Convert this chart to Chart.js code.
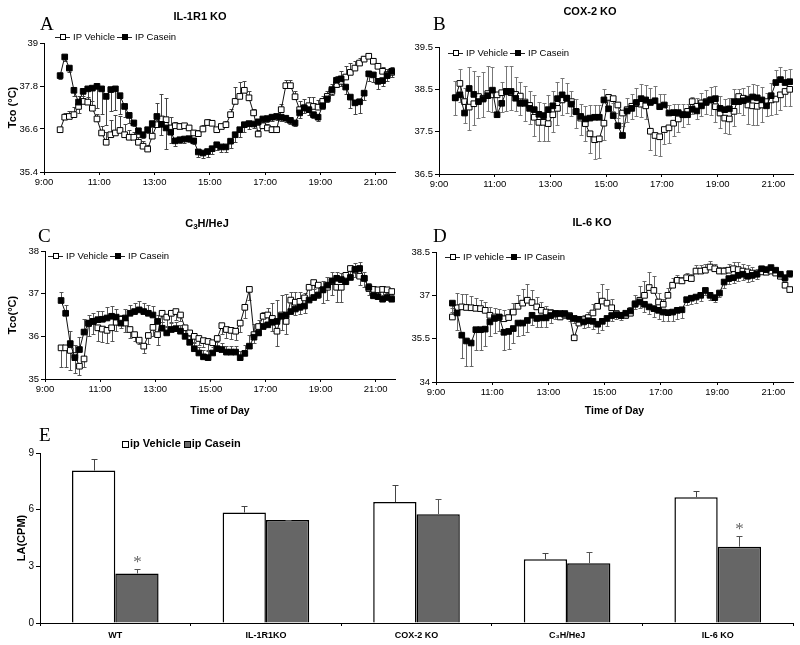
<!DOCTYPE html>
<html>
<head>
<meta charset="utf-8">
<script src="https://cdn.jsdelivr.net/npm/chart.js@4/dist/chart.umd.min.js"></script>
<style>
  body { margin: 0; background: #fff; }
  #fig { position: relative; width: 800px; height: 645px; overflow: hidden; font-family: "Liberation Sans", Arial, sans-serif; color: #000; }
  .pane { position: absolute; }
  .letter { position: absolute; font-family: "Liberation Serif", "Times New Roman", serif; font-size: 19px; line-height: 1; }
  .title { position: absolute; font-weight: bold; font-size: 11px; line-height: 1; white-space: nowrap; transform: translateX(-50%); }
  .title sub { font-size: 8px; vertical-align: -2px; }
  .leg { position: absolute; font-size: 9.5px; line-height: 10px; white-space: nowrap; }
  .key { display: inline-block; width: 15px; height: 1px; background: #222; position: relative; vertical-align: middle; margin: 0 3px 0 0; }
  .key.second { margin-left: 2px; }
  .key i { position: absolute; left: 5px; top: -3px; width: 6px; height: 6px; border: 1px solid #000; box-sizing: border-box; background: #fff; }
  .key i.fill { background: #000; }
  .legE { position: absolute; font-size: 11px; font-weight: bold; line-height: 12px; white-space: nowrap; }
  .sq { display: inline-block; width: 7px; height: 7px; border: 1px solid #000; box-sizing: border-box; vertical-align: -1px; margin-right: 1px; background: #fff; }
  .sq.dark { background: #666; }
</style>
</head>
<body>
<div id="fig">
  <div class="pane" style="left:0;top:0;width:400px;height:200px"><canvas id="chartA"></canvas></div>
  <div class="pane" style="left:400px;top:0;width:400px;height:200px"><canvas id="chartB"></canvas></div>
  <div class="pane" style="left:0;top:200px;width:400px;height:220px"><canvas id="chartC"></canvas></div>
  <div class="pane" style="left:400px;top:200px;width:400px;height:220px"><canvas id="chartD"></canvas></div>
  <div class="pane" style="left:0;top:420px;width:800px;height:225px"><canvas id="chartE"></canvas></div>

  <div class="letter" style="left:40px;top:14px">A</div>
  <div class="letter" style="left:433px;top:14px">B</div>
  <div class="letter" style="left:38px;top:226px">C</div>
  <div class="letter" style="left:433px;top:226px">D</div>
  <div class="letter" style="left:39px;top:425px">E</div>

  <div class="title" style="left:200px;top:11px">IL-1R1 KO</div>
  <div class="title" style="left:590px;top:6px">COX-2 KO</div>
  <div class="title" style="left:207px;top:218px">C<sub>3</sub>H/HeJ</div>
  <div class="title" style="left:592px;top:217px">IL-6 KO</div>

  <div class="leg" style="left:55px;top:32px"><span class="key"><i></i></span>IP Vehicle<span class="key second"><i class="fill"></i></span>IP Casein</div>
  <div class="leg" style="left:448px;top:48px"><span class="key"><i></i></span>IP Vehicle<span class="key second"><i class="fill"></i></span>IP Casein</div>
  <div class="leg" style="left:48px;top:251px"><span class="key"><i></i></span>IP Vehicle<span class="key second"><i class="fill"></i></span>IP Casein</div>
  <div class="leg" style="left:445px;top:252px"><span class="key"><i></i></span>IP vehicle<span class="key second"><i class="fill"></i></span>IP Casein</div>
  <div class="legE" style="left:122px;top:437px"><span class="sq"></span>ip Vehicle <span class="sq dark"></span>ip Casein</div>
</div>

<script>
// readings every 10 min, first one at 9:35
const firstReading = 9 + 35 / 60;
const binMinutes = 10;
const nBins = 73;
const times = Array.from({ length: nBins }, (_, i) => firstReading + i * binMinutes / 60);

const hourTicks = [9, 11, 13, 15, 17, 19, 21];
const hourLabels = ['9:00', '11:00', '13:00', '15:00', '17:00', '19:00', '21:00'];

// A: IL-1R1 KO
const aTicks = [35.4, 36.6, 37.8, 39];
const aVehicle = [36.58,36.93,36.95,37.0,37.23,37.37,37.35,37.18,36.88,36.49,
  36.23,36.44,36.49,36.56,36.44,36.37,36.37,36.23,36.12,36.04,
  36.40,36.72,36.88,36.86,36.63,36.69,36.67,36.69,36.63,36.49,
  36.47,36.60,36.78,36.76,36.58,36.67,36.72,37.0,37.37,37.51,
  37.68,37.47,37.05,36.46,36.69,36.63,36.58,36.58,37.14,37.81,
  37.81,37.50,37.14,37.19,37.25,37.23,37.21,37.37,37.51,37.65,
  37.84,37.93,38.05,38.18,38.30,38.44,38.55,38.63,38.49,38.35,
  38.21,38.12,38.18];
const aCasein = [38.09,38.61,38.30,37.68,37.35,37.65,37.72,37.74,37.79,37.72,
  37.51,37.70,37.72,37.53,37.23,36.98,36.77,36.55,36.44,36.58,
  36.75,36.95,36.73,36.63,36.51,36.27,36.30,36.32,36.33,36.27,
  35.96,35.93,35.97,36.05,36.16,36.10,36.10,36.26,36.44,36.58,
  36.72,36.75,36.74,36.80,36.88,36.89,36.93,36.95,36.93,36.90,
  36.84,36.77,37.05,37.19,37.14,37.00,36.93,37.25,37.44,37.70,
  37.96,38.00,37.77,37.49,37.33,37.36,37.60,38.14,38.11,37.93,
  37.95,38.09,38.21];
const aVehicleErr = [0.08,0.12,0.15,0.2,0.3,0.15,0.15,0.2,0.15,
  0.2,0.3,0.4,0.5,0.4,0.3,0.2,0.15,0.15,0.15,
  0.1,0.35,0.6,0.7,0.6,0.3,0.1,0.1,0.08,0.08,0.08,0.1,
  0.1,0.1,0.1,0.08,0.08,0.1,0.15,0.4,0.4,0.25,0.2,0.1,
  0.1,0.1,0.1,0.1,0.1,0.15,0.15,0.15,0.15,0.25,0.25,0.25,
  0.25,0.2,0.15,0.15,0.2,0.25,0.3,0.3,0.25,0.2,0.15,0.1,0.08,0.08,0.1,0.12,0.15,0.15];
const aCaseinErr = [0.1,0.1,0.1,0.15,0.3,0.3,0.4,0.6,0.6,
  0.7,0.8,0.6,0.6,0.5,0.3,0.2,0.1,0.1,0.1,
  0.1,0.1,0.1,0.3,0.6,0.3,0.15,0.1,0.1,0.1,0.1,0.15,
  0.15,0.15,0.15,0.15,0.15,0.15,0.2,0.2,0.2,0.2,0.15,0.1,
  0.1,0.1,0.1,0.1,0.1,0.1,0.1,0.1,0.1,0.15,0.15,0.15,
  0.1,0.1,0.1,0.1,0.15,0.2,0.2,0.2,0.3,0.3,0.3,0.2,0.2,0.2,0.2,0.15,0.15,0.15];

// B: COX-2 KO
const bTicks = [36.5, 37.5, 38.5, 39.5];
const bVehicle = [38.30,38.64,38.21,38.08,38.16,38.33,38.29,38.40,38.37,38.37,
  38.42,38.45,38.42,38.38,38.34,38.20,38.12,37.84,37.72,37.72,
  37.69,37.90,38.05,38.25,38.29,38.21,37.98,37.82,37.69,37.45,
  37.31,37.33,37.70,38.31,38.28,38.13,37.94,38.02,38.10,38.16,
  38.15,38.11,37.51,37.41,37.38,37.55,37.59,37.70,37.80,37.90,
  37.98,38.21,38.10,38.18,38.21,38.25,38.09,37.94,37.82,37.80,
  37.98,38.33,38.29,38.13,38.11,38.10,38.13,38.21,38.25,38.27,
  38.37,38.45,38.50];
const bCasein = [38.30,38.37,37.94,38.52,38.38,38.21,38.27,38.35,38.48,37.90,
  38.17,38.45,38.45,38.29,38.17,38.17,38.05,38.02,37.91,37.88,
  38.02,38.11,38.28,38.37,38.29,38.15,37.97,37.86,37.80,37.82,
  37.84,37.84,38.25,38.04,37.88,37.64,37.41,37.99,38.05,38.19,
  38.28,38.25,38.19,38.23,38.09,38.13,37.94,37.95,37.95,37.90,
  37.90,38.03,37.99,38.11,38.19,38.25,38.28,38.05,38.02,38.04,
  38.21,38.21,38.23,38.27,38.32,38.30,38.25,38.11,38.35,38.66,
  38.73,38.66,38.68];
const bVehicleErr = [0.4,0.45,0.5,0.55,0.5,0.5,0.45,0.4,0.4,0.45,0.45,0.45,0.4,
  0.4,0.45,0.45,0.45,0.45,0.45,0.45,0.4,0.4,0.4,0.35,0.35,
  0.35,0.4,0.4,0.4,0.45,0.45,0.45,0.4,0.3,0.3,0.3,0.3,
  0.3,0.3,0.3,0.3,0.3,0.45,0.45,0.45,0.35,0.35,0.3,0.3,
  0.3,0.3,0.3,0.3,0.3,0.3,0.35,0.35,0.35,0.35,0.35,0.35,
  0.4,0.4,0.45,0.45,0.45,0.4,0.35,0.35,0.35,0.35,0.35,0.4];
const bCaseinErr = [0.4,0.6,0.6,0.5,0.55,0.6,0.65,0.7,0.55,0.5,0.5,0.6,0.6,
  0.5,0.5,0.4,0.4,0.35,0.3,0.3,0.35,0.35,0.4,0.4,0.35,
  0.3,0.3,0.3,0.3,0.3,0.3,0.3,0.25,0.25,0.3,0.3,0.3,
  0.3,0.35,0.35,0.35,0.35,0.35,0.35,0.3,0.25,0.2,0.2,0.2,
  0.25,0.25,0.3,0.3,0.3,0.3,0.3,0.3,0.3,0.25,0.25,0.3,
  0.3,0.3,0.3,0.3,0.3,0.3,0.3,0.3,0.3,0.3,0.3,0.3];

// C: C3H/HeJ
const cTicks = [35, 36, 37, 38];
const cVehicle = [35.73,35.73,35.67,35.55,35.30,35.47,36.30,36.35,36.20,36.17,
  36.14,36.20,36.33,36.40,36.31,36.16,36.04,35.91,35.77,36.02,
  36.21,36.04,36.54,36.45,36.54,36.58,36.50,36.20,36.08,36.00,
  35.95,35.90,35.88,35.85,35.95,36.25,36.16,36.14,36.12,36.31,
  36.68,37.10,36.04,36.23,36.47,36.50,36.42,36.12,36.50,36.35,
  36.85,36.80,36.82,36.90,37.15,37.26,37.20,37.09,37.15,37.28,
  37.15,37.15,37.43,37.59,37.55,37.41,37.36,37.12,37.10,37.09,
  37.10,37.09,37.05];
const cCasein = [36.84,36.54,35.83,35.50,35.69,36.10,36.31,36.35,36.39,36.40,
  36.43,36.47,36.45,36.31,36.43,36.54,36.58,36.62,36.58,36.54,
  36.50,36.35,36.19,36.08,36.16,36.18,36.12,36.00,35.86,35.71,
  35.61,35.52,35.50,35.61,35.71,35.69,35.63,35.63,35.63,35.50,
  35.60,35.77,35.98,36.08,36.23,36.27,36.33,36.35,36.47,36.50,
  36.58,36.64,36.68,36.71,36.85,36.91,36.97,37.09,37.20,37.30,
  37.36,37.33,37.28,37.38,37.57,37.59,37.36,37.15,36.95,36.93,
  36.87,36.91,36.87];
const cVehicleErr = [0.45,0.45,0.45,0.4,0.2,0.2,0.3,0.3,0.3,0.3,0.3,0.3,0.2,
  0.2,0.2,0.2,0.15,0.1,0.15,0.2,0.2,0.25,0.2,0.2,0.2,
  0.2,0.15,0.15,0.15,0.15,0.15,0.15,0.2,0.2,0.2,0.2,0.2,
  0.2,0.2,0.2,0.25,0.25,0.2,0.2,0.2,0.2,0.3,0.35,0.35,
  0.3,0.3,0.3,0.3,0.35,0.3,0.3,0.3,0.3,0.3,0.3,0.35,
  0.35,0.2,0.15,0.15,0.2,0.2,0.15,0.15,0.15,0.15,0.15,0.15];
const cCaseinErr = [0.2,0.2,0.3,0.3,0.3,0.3,0.2,0.2,0.2,0.2,0.25,0.25,0.2,
  0.2,0.2,0.2,0.2,0.2,0.2,0.2,0.2,0.15,0.15,0.15,0.15,
  0.15,0.15,0.15,0.15,0.15,0.15,0.15,0.15,0.15,0.15,0.15,0.15,
  0.15,0.15,0.15,0.2,0.25,0.3,0.3,0.35,0.4,0.45,0.5,0.5,
  0.5,0.45,0.4,0.35,0.3,0.25,0.2,0.2,0.2,0.2,0.2,0.15,
  0.15,0.15,0.15,0.15,0.15,0.15,0.1,0.1,0.1,0.1,0.1,0.1];

// D: IL-6 KO
const dTicks = [34, 35.5, 37, 38.5];
const dVehicle = [36.25,36.57,36.60,36.58,36.57,36.55,36.54,36.48,36.31,36.25,
  36.23,36.19,36.23,36.42,36.62,36.73,36.83,36.75,36.60,36.48,
  36.42,36.39,36.35,36.25,36.32,36.30,35.53,36.04,36.16,36.23,
  36.39,36.62,36.80,36.73,36.57,36.37,36.31,36.31,36.38,36.71,
  36.83,37.00,37.27,37.17,36.77,36.69,37.00,37.35,37.52,37.50,
  37.61,37.58,37.84,37.84,37.87,37.98,37.92,37.84,37.84,37.87,
  37.92,37.89,37.84,37.81,37.77,37.75,37.81,37.80,37.84,37.77,
  37.66,37.35,37.20];
const dCasein = [36.73,36.39,35.62,35.42,35.35,35.81,35.81,35.83,36.08,36.20,
  36.25,35.72,35.75,35.85,36.04,36.04,36.13,36.31,36.20,36.22,
  36.22,36.30,36.37,36.37,36.37,36.27,36.20,36.17,36.08,36.12,
  36.10,36.00,36.10,36.20,36.30,36.33,36.30,36.38,36.46,36.69,
  36.77,36.69,36.60,36.54,36.48,36.42,36.40,36.42,36.48,36.50,
  36.85,36.90,36.94,37.00,37.17,37.00,36.92,37.08,37.46,37.58,
  37.61,37.69,37.73,37.66,37.69,37.73,37.92,37.89,37.96,37.87,
  37.73,37.61,37.75];
const dVehicleErr = [0.3,0.5,0.45,0.45,0.4,0.35,0.3,0.3,0.3,0.3,0.3,0.3,0.3,
  0.3,0.4,0.5,0.55,0.45,0.35,0.3,0.2,0.15,0.15,0.15,0.1,
  0.1,0.1,0.1,0.15,0.2,0.3,0.5,0.6,0.5,0.3,0.1,0.1,
  0.15,0.2,0.3,0.5,0.5,0.55,0.5,0.3,0.2,0.25,0.25,0.2,
  0.15,0.15,0.15,0.2,0.2,0.2,0.2,0.15,0.15,0.15,0.2,0.25,
  0.25,0.25,0.25,0.2,0.15,0.15,0.1,0.1,0.1,0.1,0.1,0.1];
const dCaseinErr = [0.3,0.6,0.8,0.85,0.8,0.7,0.7,0.6,0.5,0.5,0.5,0.6,0.6,
  0.5,0.45,0.4,0.4,0.35,0.3,0.3,0.3,0.25,0.2,0.2,0.15,
  0.15,0.15,0.15,0.2,0.2,0.25,0.3,0.3,0.25,0.2,0.15,0.15,
  0.15,0.15,0.15,0.2,0.25,0.25,0.3,0.3,0.3,0.3,0.3,0.3,
  0.3,0.2,0.2,0.2,0.2,0.15,0.15,0.15,0.15,0.2,0.2,0.2,
  0.2,0.2,0.2,0.2,0.15,0.15,0.1,0.1,0.1,0.1,0.1,0.1];

// E: locomotor activity
const groups = ['WT', 'IL-1R1KO', 'COX-2 KO', 'C\u2083H/HeJ', 'IL-6 KO'];
const vehicleLA = [8.07, 5.85, 6.40, 3.37, 6.66];
const vehicleLAErr = [0.63, 0.32, 0.90, 0.32, 0.32];
const caseinLA = [2.62, 5.45, 5.76, 3.16, 4.04];
const caseinLAErr = [0.23, 0.02, 0.79, 0.58, 0.56];
const caseinSig = ['*', '', '', '', '*'];
const laTicks = [0, 3, 6, 9];

[aVehicle, aCasein, aVehicleErr, aCaseinErr, bVehicle, bCasein, bVehicleErr, bCaseinErr,
 cVehicle, cCasein, cVehicleErr, cCaseinErr, dVehicle, dCasein, dVehicleErr, dCaseinErr].forEach((arr, k) => {
  if (arr.length !== nBins) throw new Error('series ' + k + ' has ' + arr.length + ' values');
});

const FONT = "'Liberation Sans', Arial, sans-serif";
Chart.defaults.font.family = FONT;
Chart.defaults.color = '#000';

function drawErrors(chart) {
  const ctx = chart.ctx;
  const yScale = chart.scales.y;
  chart.data.datasets.forEach((ds, di) => {
    if (!ds.errors) return;
    const meta = chart.getDatasetMeta(di);
    ctx.save();
    ctx.strokeStyle = ds.errorColor;
    ctx.lineWidth = 1;
    meta.data.forEach((el, i) => {
      const raw = ds.data[i];
      const v = typeof raw === 'object' ? raw.y : raw;
      const yEnd = Math.round(yScale.getPixelForValue(v + ds.errorDir * ds.errors[i])) + 0.5;
      const x = Math.round(el.x) + 0.5;
      ctx.beginPath();
      ctx.moveTo(x, el.y);
      ctx.lineTo(x, yEnd);
      ctx.moveTo(x - ds.capHalf, yEnd);
      ctx.lineTo(x + ds.capHalf, yEnd);
      ctx.stroke();
      if (ds.sig && ds.sig[i]) {
        ctx.fillStyle = '#666';
        ctx.font = "17px 'Liberation Serif', serif";
        ctx.textAlign = 'center';
        ctx.textBaseline = 'middle';
        ctx.fillText(ds.sig[i], x, yEnd - 7);
      }
    });
    ctx.restore();
  });
}

const lineErrorBars = { id: 'lineErrorBars', beforeDatasetsDraw: drawErrors };
const barErrorBars = { id: 'barErrorBars', afterDatasetsDraw: drawErrors };

function tempPanel(id, p) {
  const series = (label, vals, errs, dir, filled, order) => ({
    label,
    data: vals.map((v, i) => ({ x: times[i], y: v })),
    errors: errs,
    errorDir: dir,
    errorColor: p.errColor,
    capHalf: 2,
    borderColor: '#111',
    borderWidth: 1,
    pointStyle: 'rect',
    pointRadius: 4,
    pointHoverRadius: 4,
    pointBackgroundColor: filled ? '#000' : '#fff',
    pointBorderColor: '#000',
    pointBorderWidth: 1,
    tension: 0,
    order
  });

  new Chart(document.getElementById(id), {
    type: 'line',
    data: {
      datasets: [
        series('IP Vehicle', p.vehicle, p.vehicleErr, p.vehicleDir, false, 1),
        series('IP Casein', p.casein, p.caseinErr, -p.vehicleDir, true, 0)
      ]
    },
    options: {
      responsive: true,
      maintainAspectRatio: false,
      animation: false,
      layout: { padding: p.padding },
      plugins: { legend: { display: false }, title: { display: false }, tooltip: { enabled: false } },
      scales: {
        x: {
          type: 'linear',
          min: 9,
          max: 21.7,
          afterBuildTicks: s => { s.ticks = hourTicks.map(v => ({ value: v })); },
          afterFit: s => { s.height = p.xHeight; },
          ticks: { callback: (v, i) => hourLabels[i], font: { size: 9.5 }, color: '#000', padding: 2, maxRotation: 0, autoSkip: false },
          grid: { drawOnChartArea: false, tickLength: 3, color: '#000' },
          border: { color: '#000', width: 1 },
          title: {
            display: !!p.xTitle, text: p.xTitle || '', color: '#000',
            font: { size: 10.5, weight: 'bold' }, padding: { top: 0, bottom: 3 }
          }
        },
        y: {
          min: p.yTicks[0],
          max: p.yTicks[p.yTicks.length - 1],
          afterBuildTicks: s => { s.ticks = p.yTicks.map(v => ({ value: v })); },
          afterFit: s => { s.width = p.yWidth; },
          ticks: { callback: v => String(v), font: { size: 9.5 }, color: '#000', padding: 2 },
          grid: { drawOnChartArea: false, tickLength: 4, color: '#000' },
          border: { color: '#000', width: 1 },
          title: {
            display: !!p.yTitle, text: p.yTitle || '', color: '#000',
            font: { size: 11, weight: 'bold' }, padding: { top: 6, bottom: 0 }
          }
        }
      }
    },
    plugins: [lineErrorBars]
  });
}

tempPanel('chartA', {
  vehicle: aVehicle, casein: aCasein, vehicleErr: aVehicleErr, caseinErr: aCaseinErr,
  vehicleDir: 1, yTicks: aTicks, yTitle: 'Tco (\u00B0C)', errColor: '#444',
  padding: { top: 43, right: 3, bottom: 0, left: 0 }, yWidth: 44, xHeight: 28
});
tempPanel('chartB', {
  vehicle: bVehicle, casein: bCasein, vehicleErr: bVehicleErr, caseinErr: bCaseinErr,
  vehicleDir: -1, yTicks: bTicks, errColor: '#777',
  padding: { top: 47, right: 7, bottom: 0, left: 0 }, yWidth: 39, xHeight: 26
});
tempPanel('chartC', {
  vehicle: cVehicle, casein: cCasein, vehicleErr: cVehicleErr, caseinErr: cCaseinErr,
  vehicleDir: -1, yTicks: cTicks, yTitle: 'Tco(\u00B0C)', xTitle: 'Time of Day', errColor: '#555',
  padding: { top: 51, right: 3, bottom: 0, left: 0 }, yWidth: 45, xHeight: 41
});
tempPanel('chartD', {
  vehicle: dVehicle, casein: dCasein, vehicleErr: dVehicleErr, caseinErr: dCaseinErr,
  vehicleDir: 1, yTicks: dTicks, xTitle: 'Time of Day', errColor: '#666',
  padding: { top: 52, right: 7, bottom: 0, left: 0 }, yWidth: 36, xHeight: 38
});

new Chart(document.getElementById('chartE'), {
  type: 'bar',
  data: {
    labels: groups,
    datasets: [
      {
        label: 'ip Vehicle', data: vehicleLA, errors: vehicleLAErr, errorDir: 1, errorColor: '#444', capHalf: 3,
        backgroundColor: '#fff', borderColor: '#000', borderWidth: 1.5,
        barPercentage: 1, categoryPercentage: 0.575
      },
      {
        label: 'ip Casein', data: caseinLA, errors: caseinLAErr, errorDir: 1, errorColor: '#555', capHalf: 3,
        sig: caseinSig,
        backgroundColor: '#666', borderColor: '#000', borderWidth: 1.5,
        barPercentage: 1, categoryPercentage: 0.575
      }
    ]
  },
  options: {
    responsive: true,
    maintainAspectRatio: false,
    animation: false,
    layout: { padding: { top: 33, right: 7, bottom: 0, left: 0 } },
    plugins: { legend: { display: false }, title: { display: false }, tooltip: { enabled: false } },
    scales: {
      x: {
        afterFit: s => { s.height = 22; },
        ticks: { font: { size: 9, weight: 'bold' }, color: '#000', padding: 4, maxRotation: 0, autoSkip: false },
        grid: { offset: true, drawOnChartArea: false, tickLength: 3, color: '#000' },
        border: { color: '#000', width: 1 }
      },
      y: {
        min: 0,
        max: 9,
        afterBuildTicks: s => { s.ticks = laTicks.map(v => ({ value: v })); },
        afterFit: s => { s.width = 40; },
        ticks: { font: { size: 10 }, color: '#000', padding: 2 },
        grid: { drawOnChartArea: false, tickLength: 4, color: '#000' },
        border: { color: '#000', width: 1 },
        title: { display: true, text: 'LA(CPM)', color: '#000', font: { size: 11, weight: 'bold' }, padding: { top: 15, bottom: 0 } }
      }
    }
  },
  plugins: [barErrorBars]
});
</script>
</body>
</html>
